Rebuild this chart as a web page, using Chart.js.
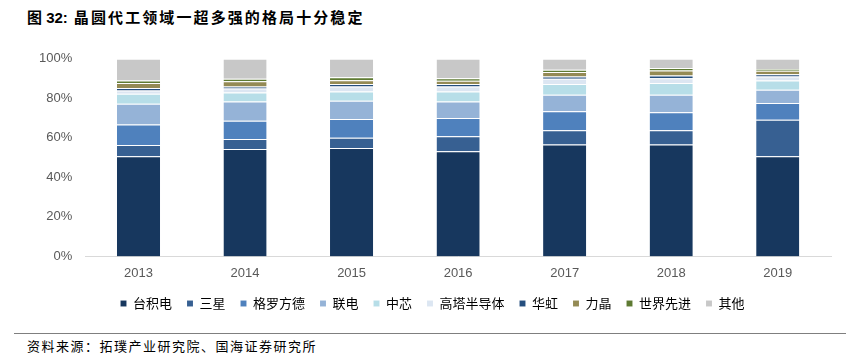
<!DOCTYPE html>
<html><head><meta charset="utf-8">
<script src="https://cdn.jsdelivr.net/npm/chart.js@4"></script>
<style>
html,body{margin:0;padding:0;background:#fff;width:846px;height:357px;overflow:hidden;}
#title{position:absolute;left:27px;top:6px;font:bold 15px "Liberation Sans","Noto Sans CJK SC",sans-serif;color:#000;}
#title .cn{font-family:"Noto Sans CJK SC";font-weight:700;letter-spacing:2.1px;margin-left:6px;}
#wrap{position:absolute;left:0;top:38px;width:846px;height:290px;}
#rule{position:absolute;left:14px;top:333px;width:832px;height:0;border-top:1px solid #7f7f7f;}
#src{position:absolute;left:27px;top:336px;font:13px "Noto Sans CJK SC",sans-serif;color:#000;letter-spacing:1.5px;}
</style></head>
<body>
<div id="title">图 32:<span class="cn">晶圆代工领域一超多强的格局十分稳定</span></div>
<div id="wrap"><canvas id="c" width="846" height="290"></canvas></div>
<div id="rule"></div>
<div id="src">资料来源：拓璞产业研究院、国海证券研究所</div>
<script>
const years = ['2013','2014','2015','2016','2017','2018','2019'];
const seriesNames = ['台积电','三星','格罗方德','联电','中芯','高塔半导体','华虹','力晶','世界先进','其他'];
const tsmc      = [50.7, 54.4, 54.9, 53.2, 56.6, 56.6, 50.7];
const samsung   = [5.7, 5.0, 5.1, 7.6, 7.2, 7.2, 18.5];
const gf        = [10.3, 9.3, 9.5, 9.2, 9.6, 9.1, 8.4];
const umc       = [10.6, 9.7, 9.3, 8.4, 8.4, 8.9, 6.7];
const smic      = [5.0, 4.6, 4.7, 5.1, 5.4, 5.9, 4.7];
const tower     = [1.7, 2.0, 2.5, 2.5, 2.7, 2.5, 2.0];
const huahong   = [1.2, 1.0, 1.2, 1.2, 1.2, 1.4, 1.2];
const powerchip = [2.5, 2.6, 2.0, 1.7, 2.2, 2.5, 1.7];
const vis       = [1.3, 1.3, 1.4, 1.3, 1.1, 1.2, 1.0];
const others    = [11.0, 10.1, 9.4, 9.8, 5.6, 4.7, 5.1];
const yTicks = [0, 20, 40, 60, 80, 100];

const seriesValues = [tsmc, samsung, gf, umc, smic, tower, huahong, powerchip, vis, others];
const colors = ['#17375E','#376092','#4F81BD','#95B3D7','#B7DEE8','#DCE6F2','#254E7E','#948A54','#5E7A32','#C8C8C8'];

const datasets = seriesNames.map((n,i)=>({
  label:n, data:seriesValues[i], backgroundColor:colors[i],
  borderColor:'rgba(255,255,255,0.35)', borderWidth:{top:1,left:0,right:0,bottom:0}, borderSkipped:false,
  barPercentage:0.405, categoryPercentage:1.0
}));

const legendShift = {id:'legendShift', afterLayout(chart){
  const lg = chart.legend; if(!lg) return;
  lg.top -= 8; lg.bottom -= 8; lg.left += 4; lg.right += 4;
}};

new Chart(document.getElementById('c'),{
  type:'bar',
  data:{labels:years, datasets},
  plugins:[legendShift],
  options:{
    responsive:false, animation:false,
    layout:{padding:{left:26,right:15,top:18,bottom:0}},
    plugins:{
      legend:{position:'bottom',
        labels:{boxWidth:6,boxHeight:6,padding:15,color:'#000',
          font:{family:'"Noto Sans CJK SC"',size:13}}},
      tooltip:{enabled:false}
    },
    scales:{
      x:{stacked:true, grid:{display:false, drawTicks:false},
         border:{display:true,color:'#d9d9d9'},
         ticks:{color:'#595959',padding:9,font:{family:'"Liberation Sans"',size:13}}},
      y:{stacked:true, min:0, max:100, afterBuildTicks:(ax)=>{ax.ticks=yTicks.map(v=>({value:v}));},
         grid:{display:false, drawTicks:false}, border:{display:false},
         ticks:{color:'#595959',padding:13,font:{family:'"Liberation Sans"',size:13},callback:v=>v+'%'}}
    }
  }
});
</script>
</body></html>
